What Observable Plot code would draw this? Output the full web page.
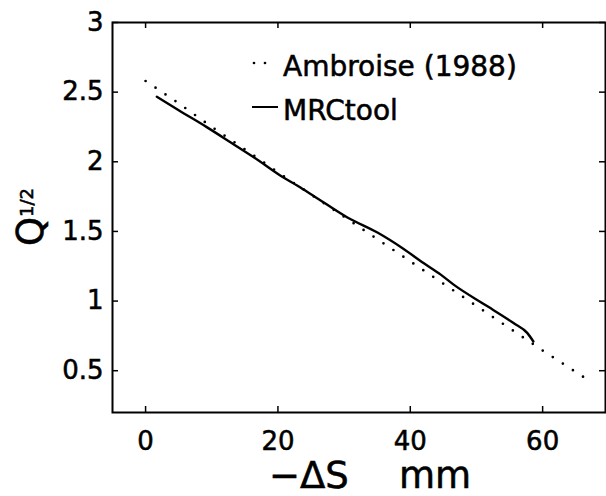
<!DOCTYPE html>
<html><head><meta charset="utf-8">
<script src="https://cdn.jsdelivr.net/npm/d3@7"></script>
<script src="https://cdn.jsdelivr.net/npm/@observablehq/plot@0.6"></script>
<style>
body{margin:0;background:#fff;overflow:hidden}
svg{display:block}
</style>
</head><body><div id="chart"></div>
<script>
// Ambroise (1988) — dotted line
const ambroiseX = [0, 5, 10, 15, 20, 25, 30, 35, 40, 45, 50, 55, 60, 66.5];
const ambroiseY = [2.58, 2.42, 2.25, 2.09, 1.925, 1.765, 1.605, 1.445, 1.285, 1.125, 0.965, 0.805, 0.645, 0.445];
// MRCtool — solid line
const mrcX = [1.7, 5, 9.3, 13, 16.4, 20.4, 23.4, 25.4, 30.5, 35.1, 39, 42, 44.6, 46.5, 51.6, 55.6, 57.7, 58.6];
const mrcY = [2.467, 2.37, 2.247, 2.135, 2.031, 1.90, 1.815, 1.755, 1.60, 1.49, 1.374, 1.273, 1.19, 1.12, 0.964, 0.842, 0.77, 0.71];
const xTicks = [0, 20, 40, 60];
const yTicks = [0.5, 1, 1.5, 2, 2.5, 3];
const legendLabels = ["Ambroise (1988)", "MRCtool"];
const yLabelBase = "Q", yLabelSup = "1/2";
const xLabelParts = ["\u2212\u0394S", "mm"];

const ambroise = ambroiseX.map((x, i) => ({x, y: ambroiseY[i]}));
const mrc = mrcX.map((x, i) => ({x, y: mrcY[i]}));

const W = 606, H = 496, mL = 112, mR = 1, mT = 22, mB = 84;
const fh = H - mT - mB, fw = W - mL - mR;
const FONT = "DejaVu Sans";
const TS = 0.55; // slight stroke to mimic the scanned, heavier type

const chart = Plot.plot({
  width: W, height: H,
  marginLeft: mL, marginRight: mR, marginTop: mT, marginBottom: mB,
  style: {fontFamily: FONT, fontSize: "26px", color: "black", background: "white", overflow: "visible"},
  x: {domain: [-5, 69.5], ticks: xTicks, tickSize: 0, tickPadding: 19, label: null, tickFormat: d => String(d)},
  y: {domain: [0.2, 3], ticks: yTicks, tickSize: 0, tickPadding: 9, label: null, tickFormat: d => String(d)},
  marks: [
    Plot.tickX(xTicks, {x: d => d, insetTop: fh - 6, stroke: "black", strokeWidth: 1.5}),
    Plot.tickX(xTicks, {x: d => d, insetBottom: fh - 6, stroke: "black", strokeWidth: 1.5}),
    Plot.tickY(yTicks, {y: d => d, insetRight: fw - 6, stroke: "black", strokeWidth: 1.5}),
    Plot.tickY(yTicks, {y: d => d, insetLeft: fw - 6, stroke: "black", strokeWidth: 1.5}),
    Plot.line(ambroise, {x: "x", y: "y", stroke: "black", strokeWidth: 2.7, strokeDasharray: "0,12", strokeLinecap: "round"}),
    Plot.line(mrc, {x: "x", y: "y", stroke: "black", strokeWidth: 2.4, curve: "monotone-x"}),
    Plot.frame({stroke: "black", strokeWidth: 2})
  ]
});
document.getElementById("chart").appendChild(chart);

const svg = d3.select(chart);
svg.selectAll("text").attr("stroke", "black").attr("stroke-width", TS);
// legend
const lg = svg.append("g").attr("font-family", FONT).attr("font-size", 28).attr("fill", "black")
  .attr("text-anchor", "start");
lg.append("line").attr("x1", 254).attr("x2", 276).attr("y1", 63).attr("y2", 63)
  .attr("stroke", "black").attr("stroke-width", 2.7).attr("stroke-linecap", "round").attr("stroke-dasharray", "0,11");
lg.append("text").attr("x", 283).attr("y", 76).attr("stroke", "black").attr("stroke-width", TS).text(legendLabels[0]);
lg.append("line").attr("x1", 252).attr("x2", 278).attr("y1", 107).attr("y2", 107)
  .attr("stroke", "black").attr("stroke-width", 2);
lg.append("text").attr("x", 283).attr("y", 120).attr("stroke", "black").attr("stroke-width", TS).text(legendLabels[1]);

// y label
const yl = svg.append("text").attr("font-family", FONT).attr("fill", "black")
  .attr("stroke", "black").attr("stroke-width", TS)
  .attr("text-anchor", "middle").attr("transform", "translate(43,217) rotate(-90)");
yl.append("tspan").attr("font-size", 37).text(yLabelBase);
yl.append("tspan").attr("font-size", 18).attr("dy", -10).text(yLabelSup);

// x label
const xl = svg.append("g").attr("font-family", FONT).attr("fill", "black").attr("text-anchor", "start")
  .attr("stroke", "black").attr("stroke-width", TS);
xl.append("text").attr("x", 269).attr("y", 488).attr("font-size", 37).text(xLabelParts[0]);
xl.append("text").attr("x", 399).attr("y", 488).attr("font-size", 37).text(xLabelParts[1]);
</script>
</body></html>
